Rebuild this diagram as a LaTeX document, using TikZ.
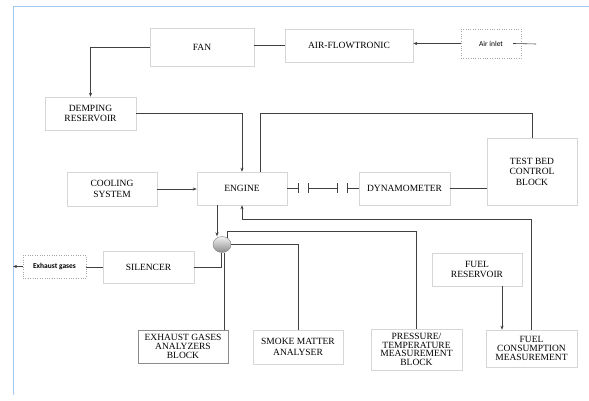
\documentclass[tikz,border=0pt]{standalone}
\usepackage{fontspec}
\setmainfont{Liberation Serif}
\newfontfamily\calibri{Carlito}
\usetikzlibrary{arrows.meta, shapes.geometric, shadows}
\definecolor{framec}{RGB}{165,200,240}

\begin{document}
\begin{tikzpicture}[x=1pt, y=1pt, >={Stealth[length=4pt,width=3.2pt]},
  blk/.style={draw=black!16, fill=white, line width=0.6pt, align=center, inner sep=1pt,
    drop shadow={shadow xshift=0.7pt, shadow yshift=-0.7pt, opacity=0.18},
    font=\fontsize{9.5}{10.5}\selectfont},
  tight/.style={font=\fontsize{9.5}{8.8}\selectfont},
  dotbox/.style={draw=black!35, dotted, fill=white, inner sep=1pt,
    font=\calibri\fontsize{7.5}{9}\selectfont},
  conn/.style={draw=black!75, line width=0.6pt}]

\useasboundingbox (0,0) rectangle (589,401);

% page frame
\draw[framec, line width=1pt] (13,6) -- (13,394) -- (589,394);

% Top row
\node[blk, minimum width=104pt, minimum height=38pt] (fan) at (202,354) {FAN};
\node[blk, minimum width=128pt, minimum height=33pt] (airflow) at (349,355.5) {AIR-FLOWTRONIC};
\node[dotbox, minimum width=60pt, minimum height=29pt] (inlet) at (491,357.5) {Air inlet};
\coordinate (inletend) at (536,357);

\node[blk, minimum width=91pt, minimum height=33pt] (demping) at (90.5,287.5) {DEMPING\\RESERVOIR};

% Engine row
\node[blk, minimum width=90pt, minimum height=34pt] (cooling) at (112,212) {COOLING\\SYSTEM};
\node[blk, minimum width=90pt, minimum height=33pt] (engine) at (242,212.5) {ENGINE};
\node[blk, minimum width=91pt, minimum height=33pt] (dyno) at (404.5,212.5) {DYNAMOMETER};
\node[blk, minimum width=90pt, minimum height=67pt] (testbed) at (532,229.5) {TEST BED\\CONTROL\\ BLOCK};

% coupling shaft
\coordinate (cpA) at (298,212.5);
\coordinate (cpB) at (308,212.5);
\coordinate (cpC) at (337,212.5);
\coordinate (cpD) at (347,212.5);

% Exhaust row
\node[ellipse, draw=black!50, top color=black!5, bottom color=black!45, minimum width=18pt,
  minimum height=16pt, inner sep=0pt] (sphere) at (222,156.5) {};
\node[blk, minimum width=91pt, minimum height=32pt] (silencer) at (148.5,134) {SILENCER};
\node[dotbox, font=\calibri\bfseries\fontsize{7.5}{9}\selectfont, minimum width=63pt,
  minimum height=23pt] (exgas) at (54.5,134.5) {Exhaust gases};
\coordinate (exout) at (13,134.5);
\node[blk, minimum width=90pt, minimum height=33pt] (fuelres) at (477,131.5) {FUEL\\RESERVOIR};

% Bottom row
\node[blk, tight, draw=black!45, minimum width=90pt, minimum height=33pt] (analyzers) at (183,54.5) {EXHAUST GASES\\ANALYZERS\\BLOCK};
\node[blk, minimum width=90pt, minimum height=34pt] (smoke) at (298,54) {SMOKE MATTER\\ANALYSER};
\node[blk, tight, minimum width=91pt, minimum height=41pt] (pressure) at (416.5,51.5) {PRESSURE/\\TEMPERATURE\\MEASUREMENT\\BLOCK};
\node[blk, tight, minimum width=91pt, minimum height=37pt] (fuelcons) at (531.5,52.5) {FUEL\\CONSUMPTION\\MEASUREMENT};

% air path
\draw[conn] ([xshift=-8pt]inlet.east) -- (inletend);
\draw[conn, ->] (inlet.west) -- (inlet.west -| airflow.east);
\draw[conn] (airflow.west) -- (airflow.west -| fan.east);
\draw[conn, ->] (fan.west) -| (demping.north);
\draw[conn, ->] (demping.east) -| (engine.north);
\draw[conn, ->] (cooling.east) -- (cooling.east -| engine.west);

% engine to dynamometer
\draw[conn] (engine.east) -- (cpA);
\draw[conn] (cpB) -- (cpC);
\draw[conn] (cpD) -- (dyno.west);
\foreach \c in {cpA,cpB,cpC,cpD}
  \draw[conn] ([yshift=-5pt]\c) -- ([yshift=5pt]\c);
\draw[conn] (dyno.east) -- (dyno.east -| testbed.west);
\draw[conn] ([xshift=18pt]engine.north) -- ++(0,58) -| (testbed.north);

% fuel and feedback
\draw[conn, <-] (engine.south) -- ++(0,-14) -| (fuelcons.north);
\draw[conn, ->] ([xshift=25pt]fuelres.south) -- ([xshift=25pt]fuelres.south |- fuelcons.north);

% exhaust
\draw[conn, ->] ([xshift=-25pt]engine.south) -- ([xshift=-25pt]engine.south |- sphere.north);
\draw[conn] ([xshift=5pt,yshift=-1.5pt]sphere.north) -- ++(0,6) -| (pressure.north);
\draw[conn] (sphere.east) -| (smoke.north);
\draw[conn] ([xshift=2pt]sphere.south) -- ([xshift=2pt]sphere.south |- analyzers.north);
\draw[conn] ([xshift=-1pt]sphere.south) |- (silencer.east);
\draw[conn] (silencer.west) -- (silencer.west -| exgas.east);
\draw[conn, ->] (exgas.west) -- (exout);

\end{tikzpicture}
\end{document}
